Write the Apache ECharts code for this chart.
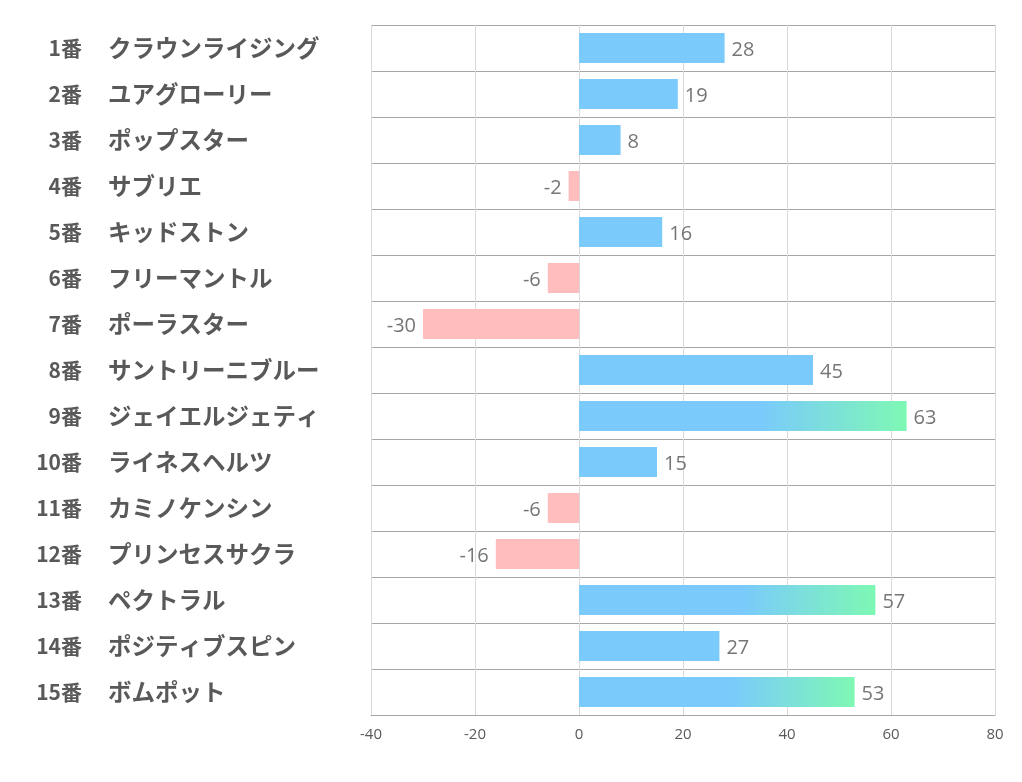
<!DOCTYPE html>
<html><head><meta charset="utf-8">
<script src="https://cdn.jsdelivr.net/npm/echarts@6/dist/echarts.min.js"></script>
<style>html,body{margin:0;padding:0;background:#fff}#c{width:1022px;height:782px}</style>
</head><body><div id="c"></div>
<script>
const nums = ['1番','2番','3番','4番','5番','6番','7番','8番','9番','10番','11番','12番','13番','14番','15番'];
const names = ['クラウンライジング','ユアグローリー','ポップスター','サブリエ','キッドストン','フリーマントル','ポーラスター','サントリーニブルー','ジェイエルジェティ','ライネスヘルツ','カミノケンシン','プリンセスサクラ','ペクトラル','ポジティブスピン','ボムポット'];
const values = [28,19,8,-2,16,-6,-30,45,63,15,-6,-16,57,27,53];
const xTicks = [-40,-20,0,20,40,60,80];

const BLUE = '#7acafc', GREEN = '#7ef8b4', PINK = '#ffbdbd';
const data = values.map(v => {
  let color;
  if (v < 0) color = PINK;
  else if (v >= 50) color = new echarts.graphic.LinearGradient(0,0,1,0,[{offset:0,color:BLUE},{offset:0.55,color:BLUE},{offset:1,color:GREEN}]);
  else color = BLUE;
  return {value: v, itemStyle: {color}, label: {position: v < 0 ? 'left' : 'right'}};
});

const labelFont = {fontWeight: 'bold', color: '#595959', fontFamily: 'Noto Sans CJK JP', padding: [0,0,0,0]};
const chart = echarts.init(document.getElementById('c'));
chart.setOption({
  animation: false,
  grid: {left: 371, right: 27, top: 25, bottom: 67, containLabel: false},
  xAxis: {
    type: 'value', min: xTicks[0], max: xTicks[xTicks.length-1], interval: 20,
    axisLine: {show: true, lineStyle: {color: '#a6a6a6'}},
    axisTick: {show: false},
    axisLabel: {color: '#595959', fontSize: 15, margin: 12, fontFamily: 'Open Sans'},
    splitLine: {show: true, lineStyle: {color: '#d9d9d9'}}
  },
  yAxis: [{
    type: 'category', data: nums, inverse: true, position: 'left',
    axisLine: {show: true, lineStyle: {color: '#d9d9d9'}},
    axisTick: {show: false},
    splitLine: {show: true, lineStyle: {color: '#a6a6a6'}},
    axisLabel: Object.assign({align: 'right', margin: 289, fontSize: 21}, labelFont)
  }, {
    type: 'category', data: names, inverse: true, position: 'left',
    axisLine: {show: false}, axisTick: {show: false}, splitLine: {show: false},
    axisLabel: Object.assign({align: 'left', margin: 263, fontSize: 23.5}, labelFont)
  }],
  series: [{
    type: 'bar', data, barWidth: 30, yAxisIndex: 0,
    label: {show: true, color: '#767676', fontSize: 20, distance: 7, offset: [0, 2], fontFamily: 'Open Sans'}
  }]
});
</script></body></html>
